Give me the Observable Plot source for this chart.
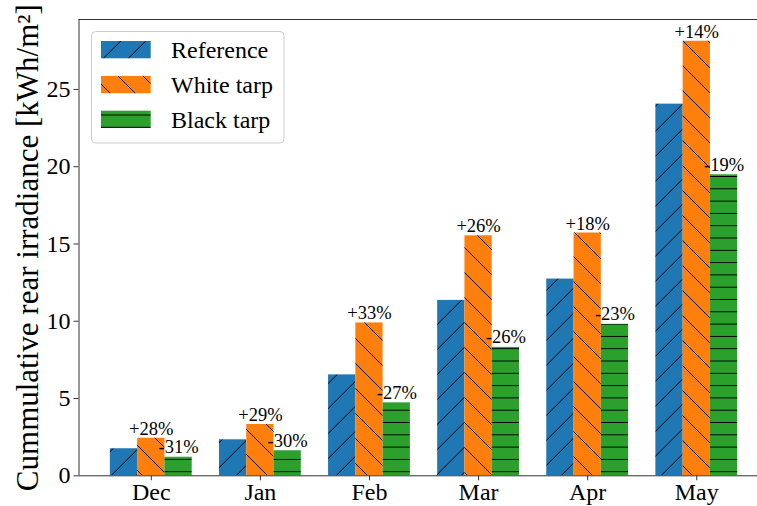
<!DOCTYPE html>
<html><head><meta charset="utf-8">
<script src="https://cdn.jsdelivr.net/npm/d3@7"></script>
<script src="https://cdn.jsdelivr.net/npm/@observablehq/plot@0.6"></script>
<style>body{margin:0;background:#fff}#chart{position:relative;width:757px;height:506px}</style>
</head><body><div id="chart"></div>
<script>
const months = ["Dec", "Jan", "Feb", "Mar", "Apr", "May"];
const series = ["Reference", "White tarp", "Black tarp"];
const reference = [1.75, 2.33, 6.53, 11.35, 12.73, 24.05];
const whiteTarp = [2.43, 3.32, 9.89, 15.53, 15.71, 28.12];
const blackTarp = [1.20, 1.62, 4.72, 8.31, 9.80, 19.48];
const whiteLabels = ["+28%", "+29%", "+33%", "+26%", "+18%", "+14%"];
const blackLabels = ["-31%", "-30%", "-27%", "-26%", "-23%", "-19%"];
const yTicks = [0, 5, 10, 15, 20, 25];
const yLabel = "Cummulative rear irradiance [kWh/m²]";

const FONT = "'Liberation Serif', 'Times New Roman', serif";
const barWidth = 0.25;
const fills = ["url(#hatchRef)", "url(#hatchWhite)", "url(#hatchBlack)"];
const seriesValues = [reference, whiteTarp, blackTarp];
const barData = seriesValues.map((vals, k) => vals.map((v, i) => ({
  month: i, value: v,
  x1: i + (k - 1) * barWidth - barWidth / 2,
  x2: i + (k - 1) * barWidth + barWidth / 2
})));
const whiteText = whiteTarp.map((v, i) => ({x: i, y: v, label: whiteLabels[i]}));
const blackText = blackTarp.map((v, i) => ({x: i + barWidth, y: v, label: blackLabels[i]}));

const nCat = months.length;
const xMin = -0.375 - 0.05 * (nCat - 1 + 0.75);
const xMax = (nCat - 1) + 0.375 + 0.05 * (nCat - 1 + 0.75);
const yMax = 28.12 * 1.05;
const left = 78.5, step = 109.1;

const svg = Plot.plot({
  width: 757, height: 506,
  marginLeft: left, marginRight: 0, marginTop: 19, marginBottom: 30.7,
  style: {fontFamily: FONT, fontSize: "24px", color: "#000", background: "#fff"},
  x: {type: "linear", domain: [xMin, xMax], range: [left, left + (xMax - xMin) * step]},
  y: {domain: [0, yMax]},
  marks: [
    ...barData.map((d, k) => Plot.rect(d, {x1: "x1", x2: "x2", y1: 0, y2: "value", fill: fills[k]})),
    Plot.ruleY([0], {stroke: "#333", strokeWidth: 1}),
    Plot.ruleY([yMax], {stroke: "#333", strokeWidth: 1}),
    Plot.ruleX([xMin], {stroke: "#333", strokeWidth: 1}),
    Plot.axisY({ticks: yTicks, tickSize: 5, tickPadding: 3.5, label: null, stroke: "#333", fontSize: 24}),
    Plot.axisX({ticks: months.map((_, i) => i), tickFormat: i => months[i], tickSize: 5, tickPadding: 2, label: null, stroke: "#333", fontSize: 24}),
    Plot.text(whiteText, {x: "x", y: "y", text: "label", lineAnchor: "bottom", dy: -3.5, fontSize: 18.5, fill: "#000"}),
    Plot.text(blackText, {x: "x", y: "y", text: "label", lineAnchor: "bottom", dy: -4, fontSize: 18.5, fill: "#000"}),
    Plot.text([yLabel], {frameAnchor: "left", rotate: -90, dx: -41.5, lineAnchor: "bottom", textAnchor: "middle", fontSize: 31, fill: "#000"})
  ]
});

const s = d3.select(svg);
s.insert("defs", ":first-child").html(`
<pattern id="hatchRef" patternUnits="userSpaceOnUse" width="25" height="25" patternTransform="translate(11.7,0)">
  <rect width="25" height="25" fill="#1f77b4"/>
  <path d="M-5,5L5,-5M0,25L25,0M20,30L30,20" stroke="#000" stroke-width="1"/>
</pattern>
<pattern id="hatchWhite" patternUnits="userSpaceOnUse" width="25" height="25" patternTransform="translate(17,0)">
  <rect width="25" height="25" fill="#ff7f0e"/>
  <path d="M-5,20L5,30M0,0L25,25M20,-5L30,5" stroke="#000" stroke-width="1"/>
</pattern>
<pattern id="hatchBlack" patternUnits="userSpaceOnUse" width="12.3" height="12.3" patternTransform="translate(0,-1.85)">
  <rect width="12.3" height="12.3" fill="#2ca02c"/>
  <path d="M-1,6.15H13.3" stroke="#000" stroke-width="1"/>
</pattern>`);

// legend (inside the axes, upper left)
const lg = s.append("g");
lg.append("rect").attr("x", 91.5).attr("y", 31.5).attr("width", 192.5).attr("height", 111.5)
  .attr("rx", 4).attr("fill", "#fff").attr("fill-opacity", 0.8).attr("stroke", "#cccccc");
const patchY = [41, 75.9, 110.7];
series.forEach((name, k) => {
  lg.append("rect").attr("x", 101).attr("y", patchY[k]).attr("width", 49.7).attr("height", 17.3).attr("fill", fills[k]);
  lg.append("text").attr("x", 171).attr("y", patchY[k] + 8.65 + 8.3)
    .attr("text-anchor", "start").attr("font-family", FONT)
    .attr("font-size", 24).attr("fill", "#000").text(name);
});

document.getElementById("chart").appendChild(svg);
</script>
</body></html>
